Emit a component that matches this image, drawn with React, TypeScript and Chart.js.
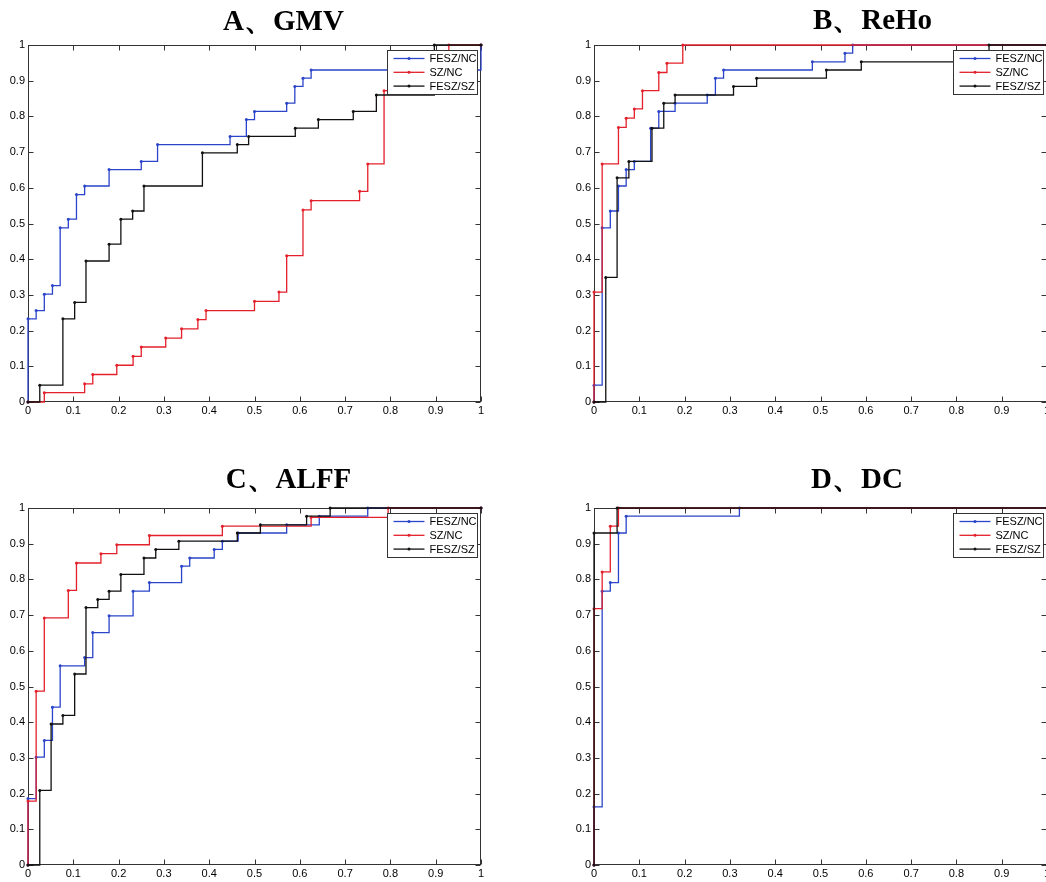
import React, { useEffect, useRef } from 'react';
import { Chart, registerables } from 'chart.js';

Chart.register(...registerables);

type Pt = [number, number];

const SERIES_LABELS = ['FESZ/NC', 'SZ/NC', 'FESZ/SZ'];
const SERIES_COLORS = ['#2b44c9', '#e3202b', '#111111'];
const PANEL_TITLES = ['A、GMV', 'B、ReHo', 'C、ALFF', 'D、DC'];
const AXIS_TICKS = [0, 0.1, 0.2, 0.3, 0.4, 0.5, 0.6, 0.7, 0.8, 0.9, 1];

// ROC step vertices [FPR, TPR] (top of each vertical rise)
// A、GMV
const A_FESZ_NC: Pt[] = [[0, 0], [0, 0.233], [0.018, 0.256], [0.036, 0.302], [0.054, 0.326], [0.071, 0.488], [0.089, 0.512], [0.107, 0.581], [0.125, 0.605], [0.179, 0.651], [0.25, 0.674], [0.286, 0.721], [0.446, 0.744], [0.482, 0.791], [0.5, 0.814], [0.571, 0.837], [0.589, 0.884], [0.607, 0.907], [0.625, 0.93], [1, 1]];
const A_SZ_NC: Pt[] = [[0, 0], [0.036, 0.026], [0.125, 0.051], [0.143, 0.077], [0.196, 0.103], [0.232, 0.128], [0.25, 0.154], [0.304, 0.179], [0.339, 0.205], [0.375, 0.231], [0.393, 0.256], [0.5, 0.282], [0.554, 0.308], [0.571, 0.41], [0.607, 0.538], [0.625, 0.564], [0.732, 0.59], [0.75, 0.667], [0.786, 0.872], [0.929, 1], [1, 1]];
const A_FESZ_SZ: Pt[] = [[0, 0], [0.026, 0.047], [0.077, 0.233], [0.103, 0.279], [0.128, 0.395], [0.179, 0.442], [0.205, 0.512], [0.231, 0.535], [0.256, 0.605], [0.385, 0.698], [0.462, 0.721], [0.487, 0.744], [0.59, 0.767], [0.641, 0.791], [0.718, 0.814], [0.769, 0.86], [0.897, 1], [1, 1]];

// B、ReHo
const B_FESZ_NC: Pt[] = [[0, 0], [0, 0.047], [0.018, 0.488], [0.036, 0.535], [0.054, 0.605], [0.071, 0.651], [0.089, 0.674], [0.125, 0.767], [0.143, 0.814], [0.179, 0.837], [0.25, 0.86], [0.268, 0.907], [0.286, 0.93], [0.482, 0.953], [0.554, 0.977], [0.571, 1], [1, 1]];
const B_SZ_NC: Pt[] = [[0, 0], [0, 0.308], [0.018, 0.667], [0.054, 0.769], [0.071, 0.795], [0.089, 0.821], [0.107, 0.872], [0.143, 0.923], [0.161, 0.949], [0.196, 1], [1, 1]];
const B_FESZ_SZ: Pt[] = [[0, 0], [0.026, 0.349], [0.051, 0.628], [0.077, 0.674], [0.128, 0.767], [0.154, 0.837], [0.179, 0.86], [0.308, 0.884], [0.359, 0.907], [0.513, 0.93], [0.59, 0.953], [0.872, 1], [1, 1]];

// C、ALFF
const C_FESZ_NC: Pt[] = [[0, 0], [0, 0.186], [0.018, 0.302], [0.036, 0.349], [0.054, 0.442], [0.071, 0.558], [0.125, 0.581], [0.143, 0.651], [0.179, 0.698], [0.232, 0.767], [0.268, 0.791], [0.339, 0.837], [0.357, 0.86], [0.411, 0.884], [0.429, 0.907], [0.464, 0.93], [0.571, 0.953], [0.643, 0.977], [0.75, 1], [1, 1]];
const C_SZ_NC: Pt[] = [[0, 0], [0, 0.179], [0.018, 0.487], [0.036, 0.692], [0.089, 0.769], [0.107, 0.846], [0.161, 0.872], [0.196, 0.897], [0.268, 0.923], [0.429, 0.949], [0.625, 0.974], [0.795, 1], [1, 1]];
const C_FESZ_SZ: Pt[] = [[0, 0], [0.026, 0.209], [0.051, 0.395], [0.077, 0.419], [0.103, 0.535], [0.128, 0.721], [0.154, 0.744], [0.179, 0.767], [0.205, 0.814], [0.256, 0.86], [0.282, 0.884], [0.333, 0.907], [0.462, 0.93], [0.513, 0.953], [0.615, 0.977], [0.667, 1], [1, 1]];

// D、DC
const D_FESZ_NC: Pt[] = [[0, 0], [0, 0.163], [0.018, 0.767], [0.036, 0.791], [0.054, 0.93], [0.071, 0.977], [0.321, 1], [1, 1]];
const D_SZ_NC: Pt[] = [[0, 0], [0, 0.718], [0.018, 0.821], [0.036, 0.949], [0.054, 1], [1, 1]];
const D_FESZ_SZ: Pt[] = [[0, 0], [0, 0.93], [0.051, 1], [1, 1]];

const PANEL_SERIES: Pt[][][] = [
  [A_FESZ_NC, A_SZ_NC, A_FESZ_SZ],
  [B_FESZ_NC, B_SZ_NC, B_FESZ_SZ],
  [C_FESZ_NC, C_SZ_NC, C_FESZ_SZ],
  [D_FESZ_NC, D_SZ_NC, D_FESZ_SZ],
];

const PANEL_LAYOUT = [
  { left: 0, top: 0, width: 567, height: 441, yW: 28, padW: 86, xH: 39, tTop: 5.4, tBot: 4.8 },
  { left: 566, top: 0, width: 613, height: 441, yW: 28, padW: 132, xH: 39, tTop: 3.8, tBot: 6.4 },
  { left: 0, top: 441, width: 577, height: 441, yW: 28, padW: 96, xH: 17, tTop: 22.4, tBot: 9.8 },
  { left: 566, top: 441, width: 582, height: 441, yW: 28, padW: 101, xH: 17, tTop: 21.9, tBot: 10.3 },
];

const SANS = '"Liberation Sans", Arial, sans-serif';
const SERIF = '"Liberation Serif", "Times New Roman", serif';

const framePlugin = {
  id: 'frame',
  beforeDatasetsDraw(chart: any) {
    const { ctx, chartArea: a, scales } = chart;
    const l = Math.round(a.left) + 0.5;
    const r = Math.round(a.right) - 0.5;
    const t = Math.round(a.top) + 0.5;
    const b = Math.round(a.bottom) - 0.5;
    ctx.save();
    ctx.strokeStyle = '#333';
    ctx.lineWidth = 1;
    ctx.strokeRect(l, t, r - l, b - t);
    const tl = 5;
    ctx.beginPath();
    AXIS_TICKS.forEach((v) => {
      const px = Math.round(scales.x.getPixelForValue(v)) + 0.5;
      ctx.moveTo(px, b);
      ctx.lineTo(px, b - tl);
      ctx.moveTo(px, t);
      ctx.lineTo(px, t + tl);
      const py = Math.round(scales.y.getPixelForValue(v)) + 0.5;
      ctx.moveTo(l, py);
      ctx.lineTo(l + tl, py);
      ctx.moveTo(r, py);
      ctx.lineTo(r - tl, py);
    });
    ctx.stroke();
    ctx.restore();
  },
};

const boxLegendPlugin = {
  id: 'boxLegend',
  afterDraw(chart: any) {
    const { ctx, chartArea: a } = chart;
    const w = 90;
    const h = 44;
    const left = Math.round(a.right - 4 - w) + 0.5;
    const top = Math.round(a.top + 5) + 0.5;
    ctx.save();
    ctx.fillStyle = '#fff';
    ctx.fillRect(left, top, w, h);
    ctx.strokeStyle = '#333';
    ctx.lineWidth = 1;
    ctx.strokeRect(left, top, w, h);
    chart.data.datasets.forEach((ds: any, i: number) => {
      const y = top + 8 + i * 13.8;
      ctx.strokeStyle = ds.borderColor;
      ctx.lineWidth = 1.3;
      ctx.beginPath();
      ctx.moveTo(left + 6, y);
      ctx.lineTo(left + 37, y);
      ctx.stroke();
      ctx.fillStyle = ds.borderColor;
      ctx.beginPath();
      ctx.arc(left + 21.5, y, 1.5, 0, Math.PI * 2);
      ctx.fill();
      ctx.fillStyle = '#000';
      ctx.font = `11px ${SANS}`;
      ctx.textBaseline = 'middle';
      ctx.textAlign = 'left';
      ctx.fillText(ds.label, left + 42, y + 0.5);
    });
    ctx.restore();
  },
};

function RocPanel({ index }: { index: number }) {
  const ref = useRef<HTMLCanvasElement>(null);
  const L = PANEL_LAYOUT[index];

  useEffect(() => {
    const canvas = ref.current;
    if (!canvas) return;
    const series = PANEL_SERIES[index];
    const tickFont = { family: SANS, size: 11 };
    const chart = new Chart(canvas, {
      type: 'line',
      data: {
        datasets: series.map((pts, i) => ({
          label: SERIES_LABELS[i],
          data: pts.map(([x, y]) => ({ x, y })),
          borderColor: SERIES_COLORS[i],
          backgroundColor: SERIES_COLORS[i],
          pointBackgroundColor: SERIES_COLORS[i],
          borderWidth: 1.3,
          pointRadius: 1.5,
          pointBorderWidth: 0,
          pointHoverRadius: 0,
          stepped: 'before' as const,
          fill: false,
          xAxisID: 'x',
          yAxisID: 'y',
          clip: 5,
          order: 2 - i,
        })),
      },
      options: {
        animation: false,
        responsive: false,
        maintainAspectRatio: false,
        events: [],
        layout: { padding: 0 },
        plugins: {
          legend: { display: false },
          tooltip: { enabled: false },
          title: {
            display: true,
            text: PANEL_TITLES[index],
            color: '#000',
            font: { family: SERIF, size: 29, weight: 'bold', lineHeight: 1.2 },
            padding: { top: L.tTop, bottom: L.tBot },
          },
        },
        scales: {
          x: {
            type: 'linear',
            position: 'bottom',
            min: 0,
            max: 1,
            grid: { display: false, drawTicks: false },
            border: { display: false },
            ticks: {
              font: tickFont,
              color: '#000',
              padding: 2,
              autoSkip: false,
              maxRotation: 0,
              callback: (v: any) => String(v),
            },
            afterBuildTicks: (s: any) => {
              s.ticks = AXIS_TICKS.map((v) => ({ value: v }));
            },
            afterFit: (s: any) => {
              s.height = L.xH;
            },
          },
          y: {
            type: 'linear',
            position: 'left',
            min: 0,
            max: 1,
            grid: { display: false, drawTicks: false },
            border: { display: false },
            ticks: {
              font: tickFont,
              color: '#000',
              padding: 3,
              autoSkip: false,
              callback: (v: any) => String(v),
            },
            afterBuildTicks: (s: any) => {
              s.ticks = AXIS_TICKS.map((v) => ({ value: v }));
            },
            afterFit: (s: any) => {
              s.width = L.yW;
            },
          },
          pad: {
            type: 'linear',
            axis: 'y',
            position: 'right',
            display: true,
            grid: { display: false, drawTicks: false },
            border: { display: false },
            ticks: { display: false },
            afterFit: (s: any) => {
              s.width = L.padW;
            },
          },
        },
      } as any,
      plugins: [framePlugin, boxLegendPlugin],
    });
    return () => chart.destroy();
  }, [index]);

  return (
    <canvas
      ref={ref}
      width={L.width}
      height={L.height}
      style={{ position: 'absolute', left: L.left, top: L.top, width: L.width, height: L.height }}
    />
  );
}

export default function App() {
  return (
    <div
      style={{
        position: 'absolute',
        left: 0,
        top: 0,
        width: 1046,
        height: 882,
        overflow: 'hidden',
        background: '#fff',
      }}
    >
      {PANEL_TITLES.map((_, i) => (
        <RocPanel key={i} index={i} />
      ))}
    </div>
  );
}
